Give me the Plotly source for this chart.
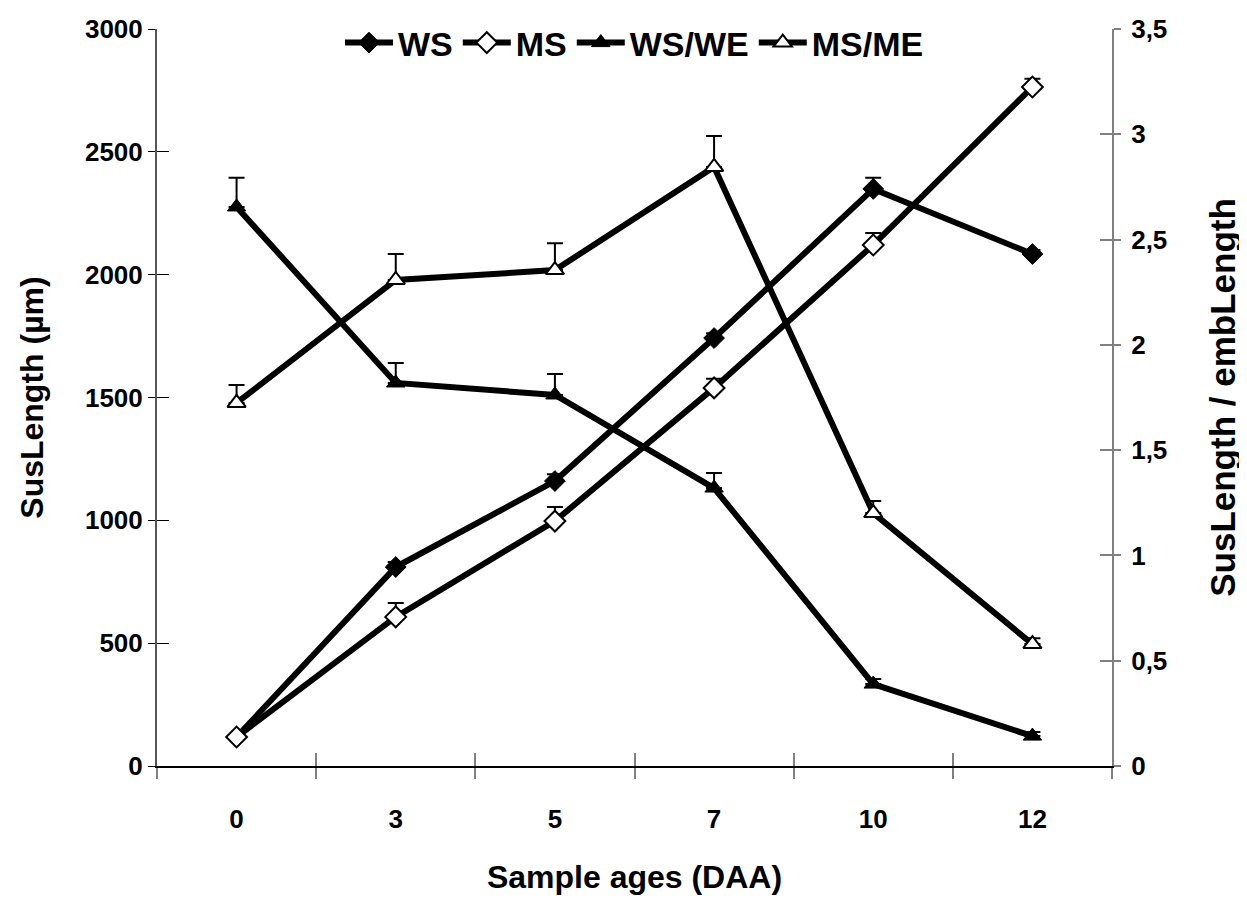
import plotly.graph_objects as go

ages = ["0", "3", "5", "7", "10", "12"]

ws = [118, 810, 1160, 1742, 2349, 2084]
ws_err = [0, 20, 28, 20, 45, 16]
ms = [118, 607, 997, 1539, 2121, 2764]
ms_err = [0, 57, 57, 37, 49, 33]

ws_we = [2.655, 1.819, 1.762, 1.320, 0.389, 0.142]
ws_we_err = [0.138, 0.095, 0.100, 0.071, 0.024, 0.019]
ms_me = [1.724, 2.308, 2.355, 2.845, 1.201, 0.579]
ms_me_err = [0.085, 0.123, 0.128, 0.147, 0.057, 0.028]

left_ticks = [0, 500, 1000, 1500, 2000, 2500, 3000]
right_ticks = [0, 0.5, 1, 1.5, 2, 2.5, 3, 3.5]
right_labels = ["0", "0,5", "1", "1,5", "2", "2,5", "3", "3,5"]

FONT = "Liberation Sans, Arial, sans-serif"
BLACK = "#000000"
GRAY = "#808080"

def err(arr):
    return dict(type="data", symmetric=False, array=arr, arrayminus=[0] * len(arr),
                color=BLACK, thickness=2, width=8)

fig = go.Figure()
fig.add_trace(go.Scatter(x=ages, y=ws, name="<b>WS</b>", mode="lines+markers",
                         line=dict(color=BLACK, width=6),
                         marker=dict(symbol="diamond", size=16, color=BLACK,
                                     line=dict(color=BLACK, width=1)),
                         error_y=err(ws_err)))
fig.add_trace(go.Scatter(x=ages, y=ms, name="<b>MS</b>", mode="lines+markers",
                         line=dict(color=BLACK, width=6),
                         marker=dict(symbol="diamond", size=16, color="white",
                                     line=dict(color=BLACK, width=2)),
                         error_y=err(ms_err)))
fig.add_trace(go.Scatter(x=ages, y=ws_we, name="<b>WS/WE</b>", mode="lines+markers", yaxis="y2",
                         line=dict(color=BLACK, width=6),
                         marker=dict(symbol="triangle-up", size=16, color=BLACK,
                                     line=dict(color=BLACK, width=1)),
                         error_y=err(ws_we_err)))
fig.add_trace(go.Scatter(x=ages, y=ms_me, name="<b>MS/ME</b>", mode="lines+markers", yaxis="y2",
                         line=dict(color=BLACK, width=6),
                         marker=dict(symbol="triangle-up", size=16, color="white",
                                     line=dict(color=BLACK, width=2)),
                         error_y=err(ms_me_err)))

# helper traces for inside tick marks (crossing ticks)
fig.add_trace(go.Scatter(x=ages, y=[None] * len(ages), xaxis="x2", yaxis="y3",
                         showlegend=False, hoverinfo="skip"))
fig.add_trace(go.Scatter(x=ages, y=[None] * len(ages), xaxis="x2", yaxis="y4",
                         showlegend=False, hoverinfo="skip"))

tickfont = dict(family=FONT, size=26, color=BLACK)
titlefont = dict(family=FONT, size=32, color=BLACK)

# page body has an 8px default margin, so the figure is shrunk by 8px
fig.update_layout(
    width=1239, height=894,
    margin=dict(l=149, r=135, t=21, b=136, autoexpand=False),
    paper_bgcolor="white", plot_bgcolor="white",
    font=dict(family=FONT, color=BLACK),
    showlegend=True,
    legend=dict(orientation="h", x=0.5, xanchor="center", y=0.981, yanchor="middle",
                bgcolor="rgba(0,0,0,0)", font=dict(family=FONT, size=34, color=BLACK),
                itemwidth=48, tracegroupgap=0),
    xaxis=dict(type="category", categoryorder="array", categoryarray=ages,
               range=[-0.5, 5.5], tickson="boundaries", ticks="outside", ticklen=11,
               tickcolor=GRAY, tickwidth=2, showline=True, linecolor=BLACK, linewidth=2,
               showgrid=False, zeroline=False, tickfont=tickfont, automargin=False,
               ticktext=[f"<b>{a}</b>" for a in ages], tickvals=ages,
               ticklabelstandoff=29,
               title=dict(text="<b>Sample ages (DAA)</b>", font=titlefont, standoff=32)),
    xaxis2=dict(type="category", categoryorder="array", categoryarray=ages,
                range=[-0.5, 5.5], tickson="boundaries", ticks="inside", ticklen=13,
                tickcolor=GRAY, tickwidth=2, showline=False, showgrid=False,
                zeroline=False, showticklabels=False, overlaying="x", anchor="y"),
    yaxis=dict(range=[0, 3000], tickvals=left_ticks, ticktext=[f"<b>{v}</b>" for v in left_ticks],
               ticks="outside", ticklen=7, tickcolor=BLACK, tickwidth=1,
               showline=True, linecolor="#555555", linewidth=2, showgrid=False,
               zeroline=False, tickfont=tickfont, automargin=False,
               title=dict(text="<b>SusLength (µm)</b>", font=titlefont, standoff=32)),
    yaxis2=dict(range=[0, 3.5], tickvals=right_ticks, ticktext=[f"<b>{t}</b>" for t in right_labels],
                overlaying="y", side="right", anchor="x",
                ticks="outside", ticklen=7, tickcolor=GRAY, tickwidth=2,
                showline=True, linecolor=GRAY, linewidth=2, showgrid=False,
                zeroline=False, tickfont=tickfont, automargin=False, ticklabelstandoff=5,
                title=dict(text="<b>SusLength / embLength</b>", font=dict(family=FONT, size=35, color=BLACK),
                           standoff=44)),
    yaxis3=dict(range=[0, 3000], tickvals=left_ticks, ticks="inside", ticklen=12,
                tickcolor=BLACK, tickwidth=1, showticklabels=False, showline=False,
                showgrid=False, zeroline=False, overlaying="y", side="left", anchor="x"),
    yaxis4=dict(range=[0, 3.5], tickvals=right_ticks, ticks="inside", ticklen=12,
                tickcolor=GRAY, tickwidth=2, showticklabels=False, showline=False,
                showgrid=False, zeroline=False, overlaying="y", side="right", anchor="x"),
)

fig.write_html("out.html")
